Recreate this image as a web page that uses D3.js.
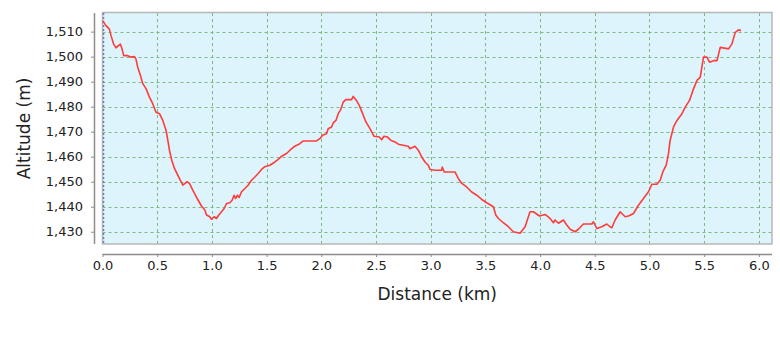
<!DOCTYPE html>
<html>
<head>
<meta charset="utf-8">
<script src="https://cdn.jsdelivr.net/npm/d3@7"></script>
<style>
  html, body { margin: 0; padding: 0; background: #ffffff; }
  svg { display: block; }
  text { font-family: "DejaVu Sans", sans-serif; }
</style>
</head>
<body>
<script>
// ---- data ----
const distanceKm = [
  0.00, 0.032, 0.063, 0.078, 0.102, 0.124, 0.145, 0.164, 0.176, 0.194,
  0.231, 0.261, 0.292, 0.306, 0.322, 0.347, 0.368, 0.398, 0.429, 0.459,
  0.489, 0.521, 0.551, 0.581, 0.597, 0.612, 0.633, 0.658, 0.688, 0.718,
  0.734, 0.755, 0.773, 0.795, 0.825, 0.865, 0.905, 0.935, 0.951, 0.981,
  0.996, 1.020, 1.042, 1.063, 1.088, 1.112, 1.134, 1.164, 1.185, 1.203,
  1.216, 1.234, 1.249, 1.271, 1.301, 1.331, 1.362, 1.393, 1.423, 1.454,
  1.484, 1.530, 1.576, 1.606, 1.637, 1.683, 1.713, 1.758, 1.804, 1.834,
  1.957, 1.987, 2.012, 2.048, 2.063, 2.094, 2.109, 2.134, 2.155, 2.177,
  2.200, 2.225, 2.277, 2.292, 2.317, 2.347, 2.378, 2.408, 2.445, 2.481,
  2.530, 2.552, 2.573, 2.603, 2.634, 2.673, 2.704, 2.749, 2.795, 2.811,
  2.856, 2.887, 2.918, 2.948, 2.978, 2.994, 3.039, 3.101, 3.106, 3.124,
  3.222, 3.252, 3.284, 3.329, 3.375, 3.421, 3.467, 3.512, 3.573, 3.595,
  3.619, 3.664, 3.710, 3.756, 3.817, 3.863, 3.908, 3.939, 3.994, 4.046,
  4.091, 4.122, 4.137, 4.168, 4.213, 4.244, 4.275, 4.320, 4.350, 4.396,
  4.473, 4.488, 4.519, 4.564, 4.610, 4.640, 4.656, 4.686, 4.732, 4.778,
  4.808, 4.854, 4.899, 4.945, 4.991, 5.022, 5.068, 5.098, 5.122, 5.153,
  5.174, 5.189, 5.220, 5.251, 5.297, 5.327, 5.366, 5.397, 5.434, 5.464,
  5.494, 5.525, 5.549, 5.585, 5.617, 5.647, 5.723, 5.754, 5.784, 5.814,
  5.836
];
const altitudeM = [
  1514.4, 1512.4, 1511.0, 1508.4, 1505.0, 1503.5, 1504.4, 1505.0, 1503.5, 1500.4,
  1500.4, 1499.8, 1500.0, 1499.0, 1495.8, 1492.5, 1489.2, 1487.2, 1483.8, 1481.2,
  1477.8, 1477.2, 1474.5, 1470.5, 1466.6, 1462.6, 1458.6, 1455.3, 1452.6, 1450.0,
  1448.6, 1449.3, 1450.0, 1449.3, 1446.6, 1443.3, 1440.3, 1438.7, 1436.7, 1436.0,
  1435.0, 1436.0, 1435.3, 1436.7, 1438.0, 1439.3, 1441.3, 1441.6, 1442.6, 1444.6,
  1443.3, 1444.6, 1443.7, 1446.0, 1447.3, 1448.6, 1450.6, 1451.9, 1453.3, 1454.9,
  1456.0, 1456.6, 1457.9, 1458.9, 1460.2, 1461.3, 1462.6, 1464.2, 1465.2, 1466.3,
  1466.3, 1467.2, 1468.6, 1469.2, 1471.2, 1471.9, 1473.5, 1474.5, 1477.2, 1478.8,
  1481.8, 1482.8, 1482.8, 1484.1, 1482.8, 1480.5, 1477.2, 1473.9, 1471.2, 1468.2,
  1467.9, 1466.8, 1468.2, 1467.9, 1466.6, 1465.9, 1465.0, 1464.6, 1464.2, 1463.2,
  1464.2, 1462.6, 1459.9, 1457.9, 1456.6, 1454.9, 1454.6, 1454.6, 1455.9, 1453.9,
  1453.9, 1451.3, 1449.3, 1447.9, 1445.9, 1444.6, 1442.9, 1441.6, 1440.0, 1436.7,
  1435.3, 1433.6, 1432.0, 1430.0, 1429.4, 1432.0, 1438.0, 1438.0, 1436.3, 1436.9,
  1435.3, 1433.6, 1434.7, 1433.4, 1434.7, 1432.7, 1431.0, 1430.0, 1431.0, 1433.1,
  1433.1, 1434.0, 1431.3, 1432.0, 1433.1, 1432.0, 1431.6, 1434.7, 1438.0, 1436.0,
  1436.3, 1437.3, 1440.6, 1443.3, 1446.0, 1449.0, 1449.0, 1450.6, 1453.9, 1456.6,
  1461.3, 1466.6, 1471.9, 1474.5, 1477.2, 1479.8, 1482.5, 1486.5, 1490.5, 1491.8,
  1499.8, 1499.8, 1497.8, 1498.4, 1498.4, 1503.7, 1503.1, 1505.1, 1509.7, 1510.7,
  1510.4
];
const xTicks = [0.0, 0.5, 1.0, 1.5, 2.0, 2.5, 3.0, 3.5, 4.0, 4.5, 5.0, 5.5, 6.0];
const yTicks = [1430, 1440, 1450, 1460, 1470, 1480, 1490, 1500, 1510];
const xLabel = "Distance (km)";
const yLabel = "Altitude (m)";

// ---- layout ----
const W = 780, H = 345;
const plot = { left: 102.5, right: 772, top: 13, bottom: 244 };

const svg = d3.select("body").append("svg")
  .attr("width", W).attr("height", H);

const x = d3.scaleLinear().domain([0, 6.12]).range([plot.left, plot.right]);
const y = d3.scaleLinear().domain([1425.1, 1517.45]).range([plot.bottom, plot.top]);

// plot background
svg.append("rect")
  .attr("x", plot.left).attr("y", plot.top)
  .attr("width", plot.right - plot.left).attr("height", plot.bottom - plot.top)
  .attr("fill", "#ddf4fd");

// gridlines
const grid = svg.append("g");
grid.selectAll("line.h").data(yTicks).join("line")
  .attr("x1", plot.left).attr("x2", plot.right)
  .attr("y1", d => Math.round(y(d)) + 0.5).attr("y2", d => Math.round(y(d)) + 0.5)
  .attr("stroke", "#7db883").attr("stroke-width", 1).attr("stroke-dasharray", "3,3");
grid.selectAll("line.v").data(xTicks.filter(d => d > 0)).join("line")
  .attr("y1", plot.top).attr("y2", plot.bottom)
  .attr("x1", d => Math.round(x(d)) + 0.5).attr("x2", d => Math.round(x(d)) + 0.5)
  .attr("stroke", "#7db883").attr("stroke-width", 1).attr("stroke-dasharray", "3,3");

// plot outline
svg.append("rect")
  .attr("x", plot.left).attr("y", plot.top - 0.5)
  .attr("width", plot.right - plot.left).attr("height", plot.bottom - plot.top + 0.5)
  .attr("fill", "none").attr("stroke", "#b8b8b8").attr("stroke-width", 1.5);
// zero gridline (bluish dotted on left edge)
svg.append("line")
  .attr("x1", Math.round(x(0)) + 0.5).attr("x2", Math.round(x(0)) + 0.5)
  .attr("y1", plot.top).attr("y2", plot.bottom)
  .attr("stroke", "#6a7fb8").attr("stroke-width", 1.5).attr("stroke-dasharray", "2,2");

// the profile line
const pts = distanceKm.map((d, i) => [d, altitudeM[i]]);
const line = d3.line().x(d => x(d[0])).y(d => y(d[1]));
svg.append("path")
  .datum(pts)
  .attr("d", line)
  .attr("fill", "none")
  .attr("stroke", "#ff3b3b").attr("stroke-width", 1.6)
  .attr("stroke-linejoin", "round");

// axes
const xAxis = d3.axisBottom(x).tickValues(xTicks).tickFormat(d3.format(".1f"))
  .tickSizeInner(3).tickSizeOuter(0).tickPadding(4);
const gx = svg.append("g").attr("transform", `translate(0,${254})`).call(xAxis);
gx.select(".domain").attr("stroke", "#8c8c8c").attr("stroke-width", 1.5)
  .attr("d", `M${plot.left},0.5H${plot.right}`);
gx.selectAll(".tick line").attr("stroke", "#8c8c8c");
gx.selectAll(".tick text").attr("font-size", 13).attr("fill", "#222")
  .attr("font-family", "DejaVu Sans, sans-serif");

const yAxis = d3.axisLeft(y).tickValues(yTicks).tickFormat(d3.format(","))
  .tickSizeInner(4).tickSizeOuter(0).tickPadding(8);
const gy = svg.append("g").attr("transform", `translate(${95},0)`).call(yAxis);
gy.select(".domain").attr("stroke", "#8c8c8c").attr("stroke-width", 1.5)
  .attr("d", `M-0.5,${plot.top}V${plot.bottom}`);
gy.selectAll(".tick line").attr("stroke", "#8c8c8c");
gy.selectAll(".tick text").attr("font-size", 13).attr("fill", "#222")
  .attr("font-family", "DejaVu Sans, sans-serif");

// axis titles
svg.append("text")
  .attr("x", (plot.left + plot.right) / 2).attr("y", 300)
  .attr("text-anchor", "middle").attr("font-size", 17).attr("fill", "#222")
  .text(xLabel);
svg.append("text")
  .attr("transform", `translate(30,${(plot.top + plot.bottom) / 2}) rotate(-90)`)
  .attr("text-anchor", "middle").attr("font-size", 17).attr("fill", "#222")
  .text(yLabel);
</script>
</body>
</html>
